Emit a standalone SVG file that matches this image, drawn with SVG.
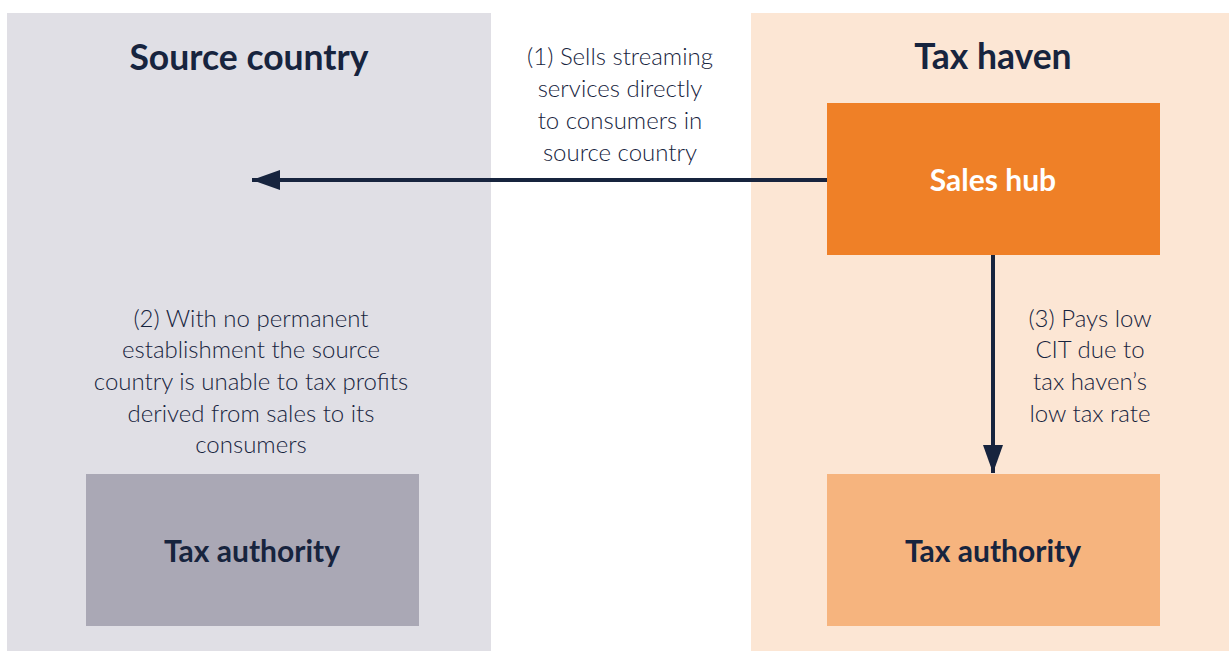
<svg xmlns="http://www.w3.org/2000/svg" width="1229" height="651" viewBox="0 0 1229 651">
<style>
.head{font-family:Lato,"Liberation Sans",sans-serif;font-weight:700;font-size:35.5px;fill:#17243E;text-anchor:middle}
.box{font-family:Lato,"Liberation Sans",sans-serif;font-weight:700;font-size:30px;fill:#17243E;text-anchor:middle}
.lbl{font-family:Lato,"Liberation Sans",sans-serif;font-weight:300;font-size:24px;fill:#17243E;text-anchor:middle}
.conn{stroke:#17243E;stroke-width:4;fill:none}
</style>
<defs>
<marker id="arr" markerUnits="userSpaceOnUse" markerWidth="28" markerHeight="20" refX="28" refY="10" orient="auto">
<path d="M0,0 L28,10 L0,20 Z" fill="#17243E"/>
</marker>
</defs>
<rect width="1229" height="651" fill="#FFFFFF"/>
<g id="source-country">
<rect x="7" y="13" width="484" height="638" fill="#E0DFE5"/>
<text class="head" x="249" y="70">Source country</text>
</g>
<g id="tax-haven">
<rect x="751" y="13" width="478" height="638" fill="#FCE6D4"/>
<text class="head" x="993" y="69">Tax haven</text>
</g>
<g id="sales-hub">
<rect x="827" y="103" width="333" height="152" fill="#EF8027"/>
<text class="box" x="993" y="191" style="fill:#FFFFFF">Sales hub</text>
</g>
<g id="source-tax-authority">
<rect x="86" y="474" width="333" height="152" fill="#AAA8B5"/>
<text class="box" x="252" y="562">Tax authority</text>
</g>
<g id="haven-tax-authority">
<rect x="827" y="474" width="333" height="152" fill="#F6B47E"/>
<text class="box" x="993" y="562">Tax authority</text>
</g>
<g id="connectors">
<line class="conn" x1="827" y1="180" x2="252" y2="180" marker-end="url(#arr)"/>
<line class="conn" x1="993" y1="255" x2="993" y2="473" marker-end="url(#arr)"/>
</g>
<g id="labels">
<text class="lbl" x="620" y="65">(1) Sells streaming</text>
<text class="lbl" x="620" y="97">services directly</text>
<text class="lbl" x="620" y="129">to consumers in</text>
<text class="lbl" x="620" y="161">source country</text>
<text class="lbl" x="251" y="327">(2) With no permanent</text>
<text class="lbl" x="251" y="358">establishment the source</text>
<text class="lbl" x="251" y="390">country is unable to tax profits</text>
<text class="lbl" x="251" y="422">derived from sales to its</text>
<text class="lbl" x="251" y="453">consumers</text>
<text class="lbl" x="1090" y="327">(3) Pays low</text>
<text class="lbl" x="1090" y="358">CIT due to</text>
<text class="lbl" x="1090" y="390">tax haven’s</text>
<text class="lbl" x="1090" y="422">low tax rate</text>
</g>
</svg>
